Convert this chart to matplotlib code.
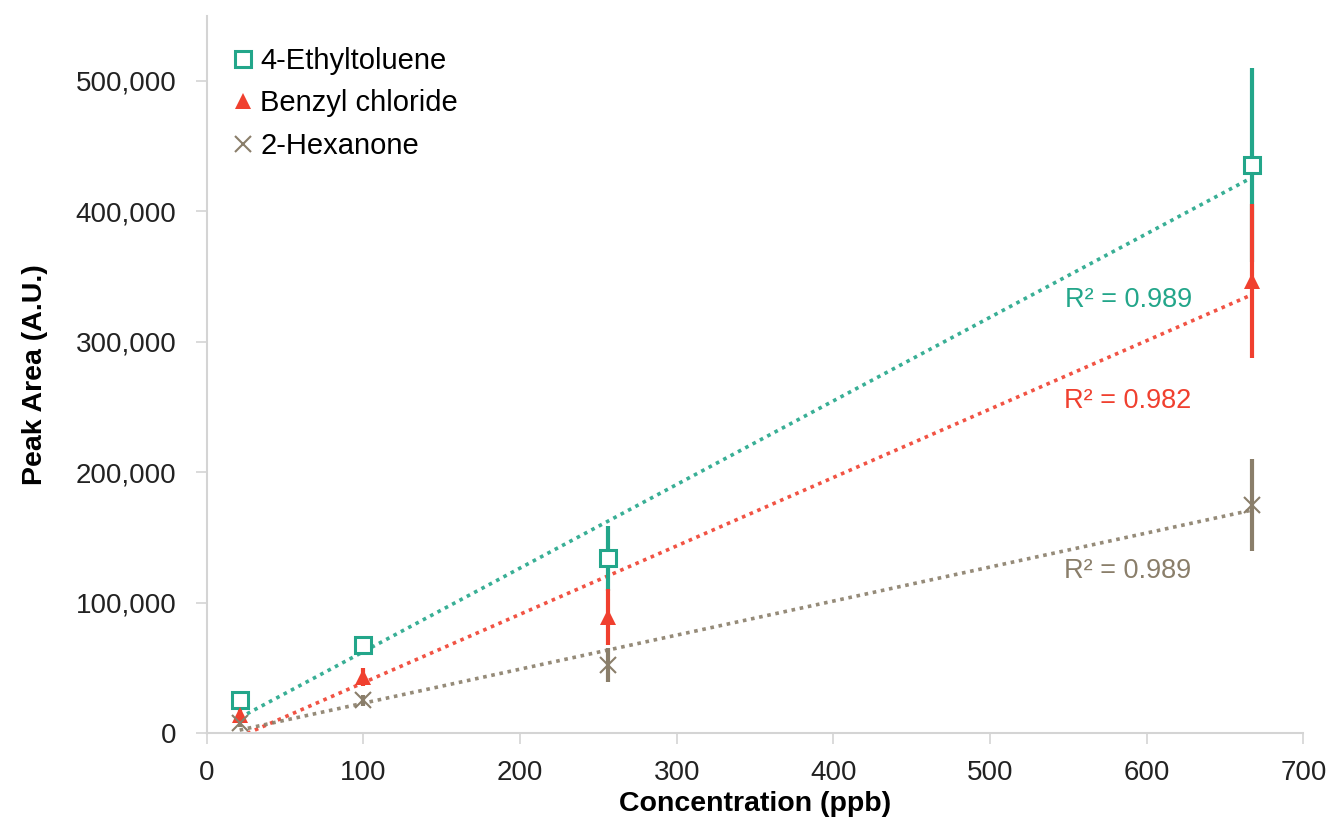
import numpy as np
import matplotlib
matplotlib.use('Agg')
import matplotlib.pyplot as plt
from matplotlib.ticker import FuncFormatter

conc = [21, 100, 256, 667]

ethyl = [25300, 68000, 134000, 435500]
ethyl_err = [5000, 6000, 25000, 74500]

benzyl = [13800, 43000, 89000, 347000]
benzyl_err = [5000, 7000, 21500, 59000]

hexanone = [8000, 25300, 52000, 175000]
hexanone_err = [3000, 4000, 13000, 35000]

r2_text = ['R\u00b2 = 0.989', 'R\u00b2 = 0.982', 'R\u00b2 = 0.989']
r2_pos = [(548, 332000), (547, 255000), (547, 124000)]

labels = ['4-Ethyltoluene', 'Benzyl chloride', '2-Hexanone']
colors = ['#23a68a', '#f0402f', '#8a7e6a']

plt.rcParams['font.family'] = ['Liberation Sans', 'DejaVu Sans']

fig = plt.figure(figsize=(13.34, 8.23), dpi=100)
ax = fig.add_axes([0.155, 0.109, 0.822, 0.872])

series = [ethyl, benzyl, hexanone]
errs = [ethyl_err, benzyl_err, hexanone_err]
mk = [dict(marker='s', markersize=11, markerfacecolor='white', markeredgewidth=2.2),
      dict(marker='^', markersize=12, markeredgewidth=0),
      dict(marker='x', markersize=12, markeredgewidth=1.5)]

x = np.array(conc, dtype=float)
for i in range(3):
  y = np.array(series[i], dtype=float)
  # linear trendline over the data range
  k, b = np.polyfit(x, y, 1)
  xf = np.array([x.min(), x.max()])
  ax.plot(xf, k * xf + b, color=colors[i], linestyle=(0, (1, 1.3)), linewidth=2.6, alpha=0.9, zorder=2)

for i in range(3):
  ax.errorbar(conc, series[i], yerr=errs[i], fmt='none', ecolor=colors[i], elinewidth=3, capsize=0, zorder=3 + i)
  ax.plot(conc, series[i], linestyle='none', color=colors[i], label=labels[i], zorder=6 + i, **mk[i])

for i in range(3):
  ax.text(r2_pos[i][0], r2_pos[i][1], r2_text[i], color=colors[i], fontsize=19.5, va='center', ha='left')

ax.set_xlim(0, 700)
ax.set_ylim(0, 550000)
ax.set_xticks(range(0, 701, 100))
ax.set_yticks(range(0, 500001, 100000))
ax.yaxis.set_major_formatter(FuncFormatter(lambda v, p: '{:,.0f}'.format(v)))

for s in ['top', 'right']:
  ax.spines[s].set_visible(False)
for s in ['left', 'bottom']:
  ax.spines[s].set_color('#d4d4d4')
  ax.spines[s].set_linewidth(1.5)
ax.tick_params(axis='both', colors='#d4d4d4', labelcolor='#222222', labelsize=20, length=8, width=1.2)
ax.tick_params(axis='x', pad=11)
ax.tick_params(axis='y', pad=14)

ax.set_xlabel('Concentration (ppb)', fontsize=20.5, fontweight='bold', labelpad=4)
ax.set_ylabel('Peak Area (A.U.)', fontsize=20.5, fontweight='bold', labelpad=20)

ax.legend(loc='upper left', bbox_to_anchor=(0.006, 0.985), frameon=False, fontsize=21,
          handlelength=0.6, handletextpad=0.3, labelspacing=0.5, borderaxespad=0.3)

fig.savefig('out.png', dpi=100)
